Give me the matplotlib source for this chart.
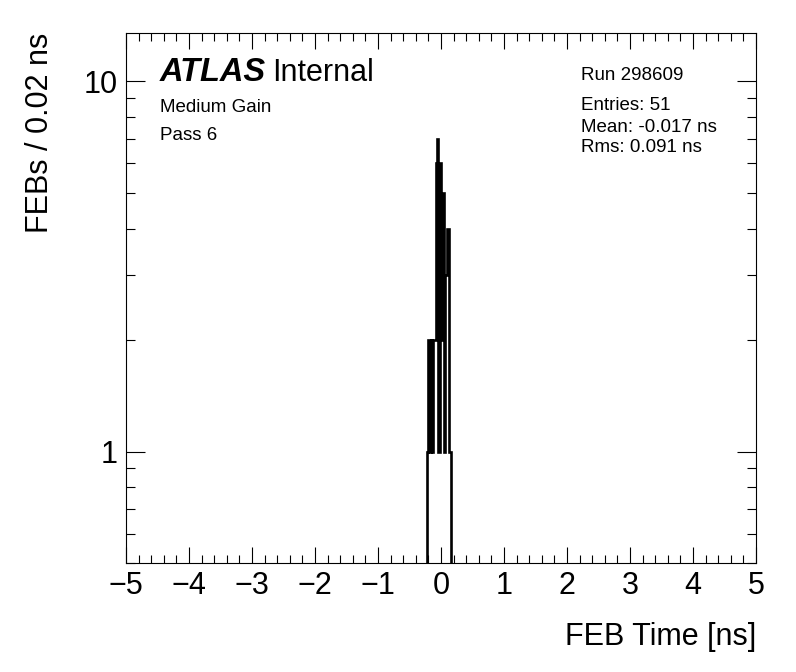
import numpy as np
import matplotlib
matplotlib.use("Agg")
import matplotlib.pyplot as plt
from matplotlib.ticker import FixedLocator, NullFormatter, FixedFormatter, MultipleLocator

plt.rcParams['font.family'] = ['Liberation Sans', 'DejaVu Sans']

# ---- data ----
bin_width = 0.02
first_edge = -0.22
counts = [1, 2, 1, 2, 1, 2, 2, 6, 7, 1, 6, 2, 5, 1, 3, 3, 4, 1, 1]
edges = first_edge + bin_width * np.arange(len(counts) + 1)

xlabel = "FEB Time [ns]"
ylabel = "FEBs / 0.02 ns"
run_text = "Run 298609"
stats_lines = ["Entries: 51", "Mean: -0.017 ns", "Rms: 0.091 ns"]
info_lines = ["Medium Gain", "Pass 6"]
xticks = [-5, -4, -3, -2, -1, 0, 1, 2, 3, 4, 5]
yticks = [1, 10]
ytick_labels = ["1", "10"]

W, H = 796, 672
fig = plt.figure(figsize=(W / 100, H / 100), dpi=100)
L, R, T, B = 126, 756, 33, 563
ax = fig.add_axes([L / W, 1 - B / H, (R - L) / W, (B - T) / H])

ax.stairs(counts, edges, baseline=1e-3, color='black', lw=1.9)

ax.set_yscale('log')
ax.set_xlim(-5, 5)
ax.set_ylim(0.5, 13.5)

# ticks
ax.xaxis.set_major_locator(FixedLocator(xticks))
ax.xaxis.set_minor_locator(MultipleLocator(0.2))
ax.yaxis.set_major_locator(FixedLocator(yticks))
ax.yaxis.set_major_formatter(FixedFormatter(ytick_labels))
minor_y = [m * 10.0 ** e for e in (-1, 0, 1) for m in range(2, 10)]
ax.yaxis.set_minor_locator(FixedLocator(minor_y))
ax.yaxis.set_minor_formatter(NullFormatter())

ax.tick_params(axis='both', which='both', direction='in', top=True, right=True,
               width=0.8, labelsize=22, colors='black')
ax.tick_params(axis='x', which='major', length=11.5, pad=6)
ax.tick_params(axis='x', which='minor', length=5.8)
ax.tick_params(axis='y', which='major', length=13.7, pad=6)
ax.tick_params(axis='y', which='minor', length=6.8)
for s in ax.spines.values():
    s.set_linewidth(0.8)

# axis labels (ROOT style: right / top aligned)
fig.text(R / W, 1 - 637 / H, xlabel, ha='right', va='center', fontsize=22)
fig.text(40 / W, 1 - T / H, ylabel, ha='center', va='top', rotation=90, fontsize=22)

# ATLAS label
fig.text(160 / W, 1 - 81 / H, "ATLAS", fontsize=23.5, fontweight='bold', fontstyle='italic',
         ha='left', va='baseline')
fig.text(272 / W, 1 - 81 / H, "Internal", fontsize=22, ha='left', va='baseline')

fs = 13.5
fig.text(160 / W, 1 - 108 / H, info_lines[0], fontsize=fs, ha='left', va='center')
fig.text(160 / W, 1 - 135 / H, info_lines[1], fontsize=fs, ha='left', va='center')

fig.text(581 / W, 1 - 75 / H, run_text, fontsize=fs, ha='left', va='center')
for i, line in enumerate(stats_lines):
    fig.text(581 / W, 1 - (106 + 21 * i) / H, line, fontsize=fs, ha='left', va='center')

fig.savefig("out.png", dpi=100)
